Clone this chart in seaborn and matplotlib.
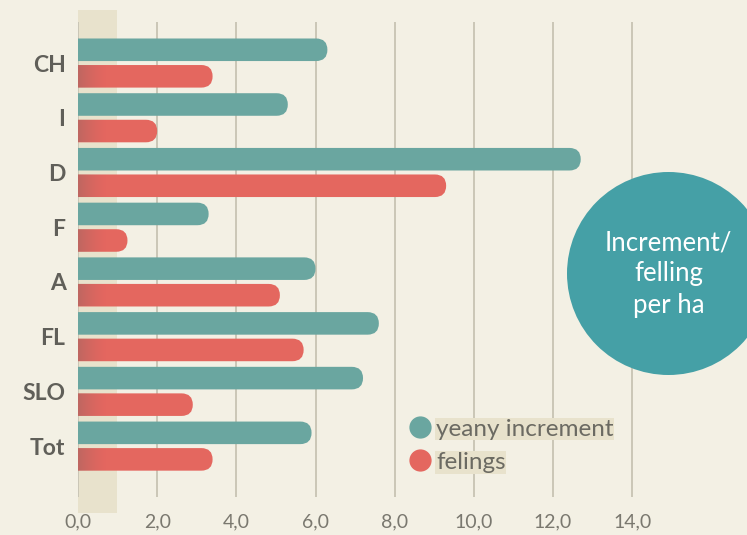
import pandas as pd
import numpy as np
import matplotlib.pyplot as plt
import seaborn as sns
from matplotlib.patches import FancyBboxPatch, Ellipse
from matplotlib.lines import Line2D

# data
countries = ['CH', 'I', 'D', 'F', 'A', 'FL', 'SLO', 'Tot']
increment = [6.3, 5.3, 12.7, 3.3, 6.0, 7.6, 7.2, 5.9]
fellings = [3.4, 2.0, 9.3, 1.25, 5.1, 5.7, 2.9, 3.4]
series = ['yeany increment', 'felings']
xticks = [0, 2, 4, 6, 8, 10, 12, 14]
xtick_labels = ['0,0', '2,0', '4,0', '6,0', '8,0', '10,0', '12,0', '14,0']

bg = '#f3f0e4'
teal = '#6aa6a0'
red = '#e4675f'
band = '#e8e2cc'
circ = '#45a0a6'
grid = '#cac6b6'
txt = '#605f59'

df = pd.DataFrame({
    'country': countries * 2,
    'value': increment + fellings,
    'series': [series[0]] * len(countries) + [series[1]] * len(countries),
})

sns.set_style('white')
plt.rcParams['font.family'] = ['Lato', 'DejaVu Sans']

W, H = 747, 535
fig = plt.figure(figsize=(W / 100, H / 100), dpi=100, facecolor=bg)
ax = fig.add_axes([78 / W, 1 - 497 / H, (W - 78) / W, 475 / H])
ax.set_facecolor('none')

sns.barplot(data=df, y='country', x='value', hue='series', orient='h',
            palette=[teal, red], width=0.97, gap=0.15, saturation=1,
            legend=False, ax=ax)

xmax, ylo, yhi = 16.9, 7.93, -0.75
ax.set_xlim(0, xmax)
ax.set_ylim(ylo, yhi)

# swap the flat bars for ones with a rounded right end
xdpp = xmax / (W - 78)
ydpp = (ylo - yhi) / 475
bars = list(ax.patches)
for p in bars:
    x0, y0, w, h = p.get_x(), p.get_y(), p.get_width(), p.get_height()
    col = p.get_facecolor()
    p.remove()
    r = h / ydpp * xdpp / 2
    fb = FancyBboxPatch((x0 - r, y0), w + r, h,
                        boxstyle=f'round,pad=0,rounding_size={r}',
                        mutation_aspect=ydpp / xdpp,
                        facecolor=col, edgecolor='none', zorder=2)
    ax.add_patch(fb)
    if np.allclose(col[:3], plt.matplotlib.colors.to_rgb(red), atol=0.02):
        shade = np.zeros((1, 64, 4))
        shade[..., :3] = 0.4
        shade[..., 3] = np.linspace(0.3, 0, 64) ** 1.5 / 0.3 ** 0.5
        im = ax.imshow(shade, extent=(0, 0.75, y0 + h, y0), aspect='auto',
                       zorder=3, interpolation='bilinear')
        im.set_clip_path(fb)

ax.set_xlim(0, xmax)
ax.set_ylim(ylo, yhi)

ax.axvspan(0, 0.98, ymin=-0.034, ymax=1.025, color=band, zorder=0.2,
           clip_on=False, lw=0)

ax.set_xticks(xticks)
ax.set_xticklabels(xtick_labels, fontsize=14, color='#7a786f')
ax.xaxis.grid(True, color=grid, lw=1.4, zorder=0.5)
ax.set_axisbelow(True)
ax.tick_params(axis='x', length=0, pad=12)
ax.tick_params(axis='y', length=0, pad=9)
for t in ax.get_yticklabels():
    t.set_fontsize(16.5)
    t.set_fontweight('bold')
    t.set_color(txt)
ax.set_xlabel('')
ax.set_ylabel('')
for s in ax.spines.values():
    s.set_visible(False)

# legend
handles = [Line2D([], [], marker='o', ls='', markersize=15, color=c)
           for c in [teal, red]]
leg = ax.legend(handles, series, loc='upper left', frameon=False,
                bbox_to_anchor=(402 / W, 1 - 409 / H),
                bbox_transform=fig.transFigure, handlelength=0.7,
                handletextpad=0.3, labelspacing=0.5, fontsize=17.5,
                borderaxespad=0)
for t in leg.get_texts():
    t.set_color('#6b6a62')
    t.set_bbox(dict(facecolor=band, edgecolor='none', pad=0.5))

# title bubble
fig.add_artist(Ellipse((668.5 / W, 1 - 273.5 / H), 203 / W, 203 / H,
                       transform=fig.transFigure, color=circ, lw=0))
fig.text(668.5 / W, 1 - 274 / H, 'Increment/\nfelling\nper ha',
         ha='center', va='center', color='white', fontsize=18.5,
         linespacing=1.32, family=['Lato', 'DejaVu Sans'])

fig.savefig('out.png', dpi=100, facecolor=bg)
